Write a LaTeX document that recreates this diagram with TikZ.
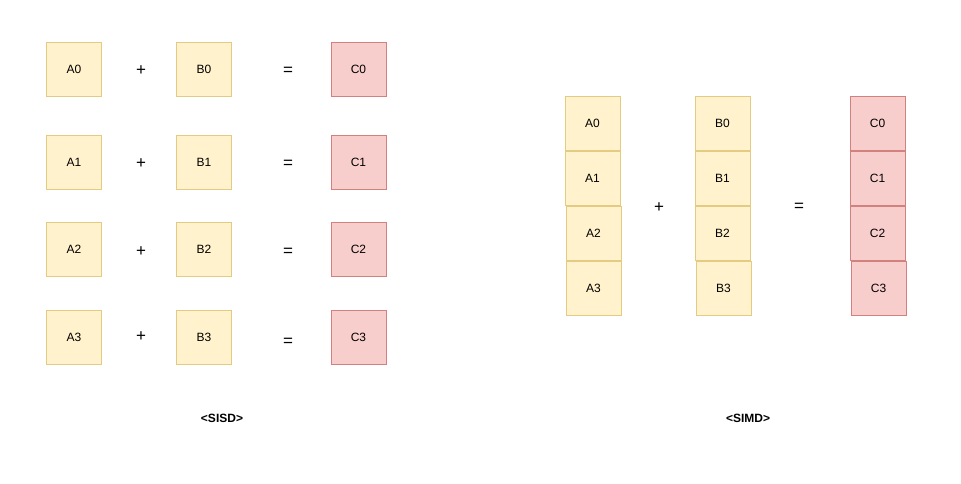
\documentclass[tikz,border=0pt]{standalone}
\usepackage{fontspec}
\setmainfont{Liberation Sans}
\definecolor{cellY}{HTML}{FFF2CC}
\definecolor{cellYd}{HTML}{E3CB82}
\definecolor{cellR}{HTML}{F8CECC}
\definecolor{cellRd}{HTML}{D3817E}

\begin{document}
\begin{tikzpicture}[x=1pt,y=-1pt,
  ycell/.style={draw=cellYd,fill=cellY,minimum width=55pt,minimum height=54pt,inner sep=0pt,font=\fontsize{12}{14}\selectfont},
  rcell/.style={ycell,draw=cellRd,fill=cellR},
  op/.style={font=\fontsize{17}{19}\selectfont,inner sep=0pt,yshift=-2pt},
  caption/.style={font=\bfseries\fontsize{12}{14}\selectfont}]
\useasboundingbox (0,0) rectangle (961,483);
% SISD: one pair per instruction
\foreach \i/\y/\p/\e in {0/69/69/69,1/162/162/162,2/249/250/250,3/337/335/340} {
  \node[ycell] (sa\i) at (74,\y) {A\i};
  \node[op] (sp\i) at (141,\p) {+};
  \node[ycell] (sb\i) at (204,\y) {B\i};
  \node[op] (se\i) at (288,\e) {=};
  \node[rcell] (sc\i) at (358.5,\y) {C\i};
}
\node[caption] (sisd) at (222,418) {<SISD>};
% SIMD: whole column at once
\foreach \i/\y/\xa/\xb/\xc in {0/123/592.5/722.5/877.5,1/178/592.5/722.5/877.5,2/233/593.5/722.5/877.5,3/288/593.5/723.5/878.5} {
  \node[ycell] (va\i) at (\xa,\y) {A\i};
  \node[ycell] (vb\i) at (\xb,\y) {B\i};
  \node[rcell] (vc\i) at (\xc,\y) {C\i};
}
\node[op] (vp) at (659,206) {+};
\node[op] (ve) at (799,205) {=};
\node[caption] (simd) at (748,418) {<SIMD>};
\end{tikzpicture}
\end{document}
